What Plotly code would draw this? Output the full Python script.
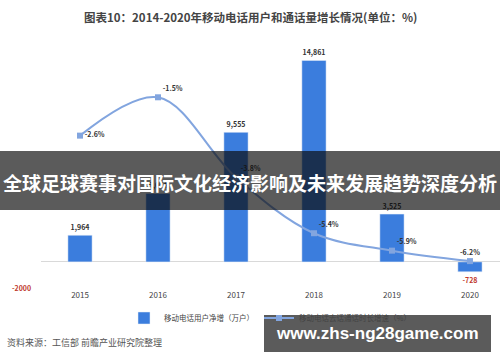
import plotly.graph_objects as go

years = ["2015", "2016", "2017", "2018", "2019", "2020"]
net_users = [1964, 5054, 9555, 14861, 3525, -728]          # 万户
call_growth = [-2.6, -1.5, -3.8, -5.4, -5.9, -6.2]          # %
bar_name = "移动电话用户净增（万户）"
line_name = "移动电话去话通话时长增速（%）"
title = "图表10：2014-2020年移动电话用户和通话量增长情况(单位：%)"
source = "资料来源：工信部 前瞻产业研究院整理"
banner = "全球足球赛事对国际文化经济影响及未来发展趋势深度分析"
site = "www.zhs-ng28game.com"

W, H = 500, 362
ML, MR, MT, MB = 41, 0, 45, 73
PW, PH = W - ML - MR, H - MT - MB

def px(x):
    return (x - ML) / PW

def py(y):
    return (H - MB - y) / PH

BAR_C = "#3b7ddd"
LINE_C = "#82a5df"
CJK = "Noto Sans CJK SC"

fig = go.Figure()
fig.add_trace(go.Bar(
    x=years, y=net_users, name=bar_name, marker_color=BAR_C,
    texttemplate="<b>%{y:,}</b>", textposition="outside",
    textfont=dict(size=7, color=["#333" if v >= 0 else "#c0392b" for v in net_users], family=CJK),
    cliponaxis=False, yaxis="y",
))
fig.add_trace(go.Scatter(
    x=years, y=call_growth, name=line_name, mode="lines+markers+text",
    line=dict(color=LINE_C, width=2, shape="spline", smoothing=1.0),
    marker=dict(symbol="square", size=6, color=LINE_C),
    text=[f"<b>{v}%</b>" for v in call_growth],
    textposition=["middle right", "top right", "top right", "top right", "top right", "top center"],
    textfont=dict(size=7, color="#333", family=CJK),
    cliponaxis=False, yaxis="y2",
))

fig.update_layout(
    width=W, height=H,
    margin=dict(l=ML, r=MR, t=MT, b=MB, autoexpand=False),
    paper_bgcolor="white", plot_bgcolor="white",
    bargap=0.69,
    showlegend=True,
    legend=dict(orientation="h", x=px(124), xanchor="left", y=py(318), yanchor="middle",
                font=dict(size=7.5, color="#444", family=CJK),
                bgcolor="rgba(0,0,0,0)"),
    xaxis=dict(type="category", range=[-0.5, 5.385], showgrid=False, showline=False,
               zeroline=False, ticks="", automargin=False,
               tickfont=dict(size=8, color="#444", family=CJK)),
    yaxis=dict(range=[-2000, 16000], showgrid=False, zeroline=True, zerolinecolor="#d9d9d9",
               zerolinewidth=1, showline=False, showticklabels=False, automargin=False),
    yaxis2=dict(range=[-7, 0], overlaying="y", side="right", visible=False),
    font=dict(family=CJK),
)

def note(text, x, y, size, color, family=CJK, xanchor="center"):
    return dict(text=text, x=px(x), y=py(y), xref="paper", yref="paper",
                xanchor=xanchor, yanchor="middle", showarrow=False,
                font=dict(size=size, color=color, family=family))

ann = [
    note(f"<b>{title}</b>", 250, 17, 11.5, "#444"),
    note(source, 5, 342, 9, "#555", xanchor="left"),
    note("<b>-2000</b>", 21, 288, 7, "#c0392b"),
]
shapes = [
    dict(type="rect", xref="paper", yref="paper", x0=px(0), x1=px(500), y0=py(151), y1=py(210),
         fillcolor="rgba(10,10,10,0.67)", line=dict(width=0), layer="above"),
    dict(type="rect", xref="paper", yref="paper", x0=px(264), x1=px(491), y0=py(315), y1=py(352),
         fillcolor="rgba(10,10,10,0.67)", line=dict(width=0), layer="above"),
]
ann += [
    note(f"<b>{banner}</b>", 250, 182, 19, "white"),
    note(f"<b>{site}</b>", 377, 333, 17, "white", family="Liberation Sans"),
]
fig.update_layout(annotations=ann, shapes=shapes)
fig.write_html(
    "out.html",
    config={"displayModeBar": False},
    post_script="document.body.style.margin='0';document.body.style.overflow='hidden';"
                "window.dispatchEvent(new Event('resize'));",
)
